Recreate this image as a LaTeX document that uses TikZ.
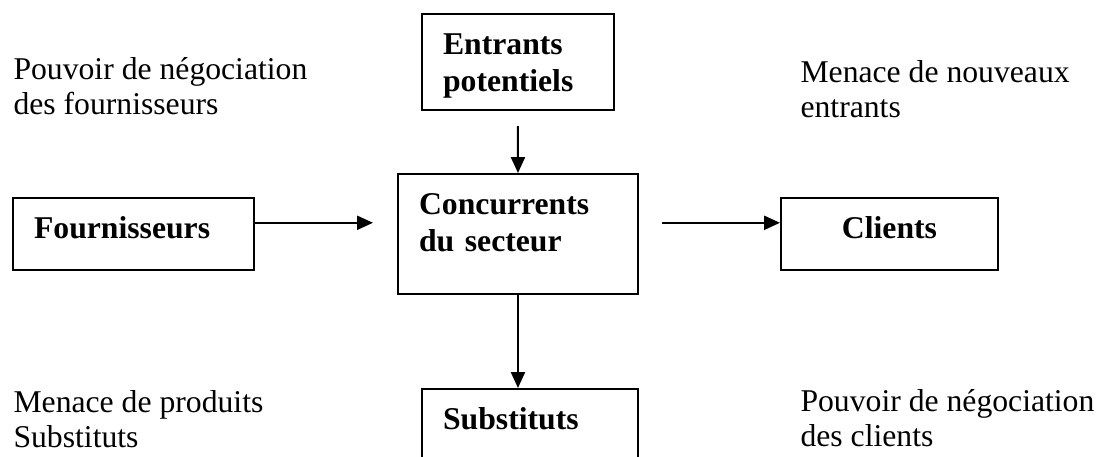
\documentclass[tikz,border=0pt]{standalone}
\usepackage{fontspec}
\setmainfont{Liberation Serif}
\usetikzlibrary{arrows.meta}
\tikzset{
  boite/.style={draw,line width=0.75pt,inner xsep=8pt,inner ysep=0pt,anchor=north west,
    align=left,font=\fontsize{12}{14}\selectfont\bfseries},
  fleche/.style={-{Triangle[length=6pt,width=5.3pt]},line width=0.75pt},
  texte/.style={anchor=base west,align=left,inner sep=0pt}
}
\begin{document}
\begin{tikzpicture}[x=0.3788pt,y=-0.3788pt,font=\fontsize{12}{13.6}\selectfont]
  \useasboundingbox (0,0) rectangle (1101,457);
  \clip (0,0) rectangle (1101,457);
  % les cinq forces
  \node[boite,text width=56.7pt,text height=15.2pt,text depth=21.2pt] (entr) at (421,13) {Entrants\\potentiels};
  \node[boite,text width=74.9pt,text height=15.2pt,text depth=30.3pt] (conc) at (397,173) {Concurrents\\du secteur};
  \node[boite,text width=75.3pt,text height=15.5pt,text depth=11.7pt] (fourn) at (12,197) {Fournisseurs};
  \node[boite,align=center,text width=66.2pt,text height=15.5pt,text depth=11.7pt] (clients) at (780,197) {Clients};
  \node[boite,text width=65.8pt,text height=15.2pt,text depth=30pt] (subst) at (421,388) {Substituts};
  % fleches
  \coordinate (fo) at ([yshift=4.2pt]fourn.east);
  \coordinate (cl) at ([yshift=4.2pt]clients.west);
  \draw[fleche,shorten <=5.7pt] (entr.south) -- (conc.north);
  \draw[fleche] (conc.south) -- (conc.south |- subst.north);
  \draw[fleche,shorten >=9.1pt] (fo) -- (fo -| conc.west);
  \draw[fleche,shorten <=8.7pt] (cl -| conc.east) -- (cl);
  % commentaires (ancre sur la derniere ligne)
  \node[texte] (pnf) at (13,115) {Pouvoir de négociation\\des fournisseurs};
  \node[texte] (mne) at (800,118) {Menace de nouveaux\\entrants};
  \node[texte] (mps) at (13,448) {Menace de produits\\Substituts};
  \node[texte] (pnc) at (800,447) {Pouvoir de négociation\\des clients};
\end{tikzpicture}
\end{document}
